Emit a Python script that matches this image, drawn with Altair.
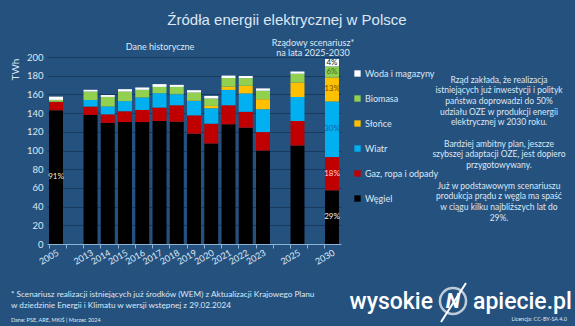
import altair as alt
import pandas as pd

# ---------------- data ----------------
years = ["2005", "2013", "2014", "2015", "2016", "2017", "2018", "2019",
         "2020", "2021", "2022", "2023", "2025", "2030"]
slots = ["2005", "_a", "2013", "2014", "2015", "2016", "2017", "2018", "2019",
         "2020", "2021", "2022", "2023", "_b", "2025", "_c", "2030"]
series = ["Węgiel", "Gaz, ropa i odpady", "Wiatr", "Słońce", "Biomasa", "Woda i magazyny"]

coal    = [143.0, 138.0, 129.5, 130.4, 130.4, 131.5, 130.8, 118.0, 107.5, 128.0, 124.4, 100.0, 105.4, 57.4]
gas     = [9.0,   9.0,   9.2,   11.6,  13.0,  14.4,  17.6,  19.6,  21.2,  20.4,  17.0,  19.7,  26.1,  35.6]
wind    = [0.1,   7.0,   8.3,   10.8,  13.2,  15.4,  11.8,  15.4,  16.5,  16.4,  19.6,  24.4,  25.8,  59.4]
solar   = [0.0,   0.0,   0.0,   0.1,   0.1,   0.2,   0.3,   0.7,   2.5,   3.5,   8.2,   10.8,  15.4,  25.7]
biomass = [2.0,   9.0,   10.3,  10.1,  8.2,   6.5,   7.5,   8.3,   7.9,   9.2,   8.2,   9.0,   9.3,   11.9]
water   = [3.5,   1.9,   2.0,   2.6,   2.5,   3.0,   2.2,   2.5,   2.8,   2.6,   2.3,   2.5,   2.6,   7.9]
values = [coal, gas, wind, solar, biomass, water]

label_years  = ["2005", "2030", "2030", "2030", "2030", "2030", "2030"]
label_series = ["Węgiel", "Węgiel", "Gaz, ropa i odpady", "Wiatr", "Słońce", "Biomasa", "Woda i magazyny"]
label_texts  = ["91%", "29%", "18%", "30%", "13%", "6%", "4%"]

# ---------------- styles ----------------
series_colors = ["#000000", "#c00000", "#00b0f0", "#ffc000", "#92d050", "#ffffff"]
label_colors = ["#f2e6c4", "#f2f2f2", "#ffd0d0", "#1464a5", "#7a5200", "#3d6b1c", "#222222"]
BG = "#25517f"
GRID = "#163a60"
LIGHT = "#dce8f4"
FONT = "Lato"

rows = []
for i, s in enumerate(series):
    for y, v in zip(years, values[i]):
        rows.append({"year": y, "series": s, "value": v, "order": i})
df = pd.DataFrame(rows)

lab_rows = []
for yr, s, t, c in zip(label_years, label_series, label_texts, label_colors):
    yi = years.index(yr)
    si = series.index(s)
    base = sum(values[k][yi] for k in range(si))
    lab_rows.append({"year": yr, "value": base + values[si][yi] / 2, "text": t, "color": c})
lab_df = pd.DataFrame(lab_rows)

# ---------------- layout ----------------
W, H = 294, 187
L, T = 47, 57

xscale = alt.Scale(domain=slots, paddingInner=0.19, paddingOuter=0.118)
yscale = alt.Scale(domain=[0, 200], nice=False)
yaxis = alt.Axis(values=list(range(0, 201, 20)), title="TWh", titleColor=LIGHT,
                 titleFont=FONT, titleFontSize=10, titleFontWeight="normal",
                 titleX=-27, titleY=12, titleAlign="center",
                 grid=True, gridColor=GRID, gridWidth=1, domain=False, ticks=False,
                 labelColor=LIGHT, labelFont=FONT, labelFontSize=9.5, labelPadding=4)

bars = alt.Chart(df).mark_bar().encode(
    x=alt.X("year:N", scale=xscale, sort=slots,
            axis=alt.Axis(title=None, labelAngle=-30, labelAlign="right", labelBaseline="top",
                          labelExpr="indexof(datum.label, '_') == 0 ? '' : datum.label",
                          ticks=False, domainColor="#8db3d9", domainWidth=1,
                          labelColor=LIGHT, labelFont=FONT, labelFontSize=9, labelPadding=4,
                          grid=False, orient="bottom")),
    y=alt.Y("value:Q", stack="zero", scale=yscale, axis=yaxis),
    color=alt.Color("series:N",
                    scale=alt.Scale(domain=series[::-1], range=series_colors[::-1]),
                    legend=alt.Legend(orient="none", legendX=306, legendY=12, title=None,
                                      symbolType="square", symbolSize=40, symbolStrokeWidth=0,
                                      labelColor=LIGHT, labelFont=FONT, labelFontSize=9,
                                      rowPadding=15, padding=0, labelOffset=3)),
    order=alt.Order("order:Q", sort="ascending"),
)

ticks_layer = alt.Chart(df).mark_tick(opacity=0).encode(
    x=alt.X("year:N", scale=xscale, sort=slots,
            axis=alt.Axis(bandPosition=0, labels=False, domain=False, ticks=True, tickSize=4,
                          tickColor="#8db3d9", tickWidth=1, title=None, grid=False,
                          orient="bottom")),
)

pct = alt.Chart(lab_df).mark_text(font=FONT, fontSize=8).encode(
    x=alt.X("year:N", scale=xscale, sort=slots, axis=None),
    y=alt.Y("value:Q", scale=yscale, axis=yaxis),
    text="text:N",
    color=alt.Color("color:N", scale=None),
)

dummy = pd.DataFrame({"a": [0]})


def txt(s, x, y, size, align="center", baseline="middle", font=FONT, color=LIGHT,
        weight="normal", style="normal", line_height=None):
    kw = dict(font=font, fontSize=size, align=align, baseline=baseline, color=color,
              fontWeight=weight, fontStyle=style, lineBreak="\n")
    if line_height is not None:
        kw["lineHeight"] = line_height
    return alt.Chart(dummy).mark_text(**kw).encode(
        x=alt.value(x - L), y=alt.value(y - T), text=alt.value(s))


texts = [
    txt("Źródła energii elektrycznej w Polsce", 287, 20, 15, font="Liberation Sans"),
    txt("Dane historyczne", 160, 47, 9),
    txt("Rządowy scenariusz*\nna lata 2025-2030", 313, 38.5, 9, baseline="top", line_height=10.3),
    txt("Rząd zakłada, że realizacja\nistniejących już inwestycji i polityk\npaństwa doprowadzi do 50%\n"
        "udziału OZE w produkcji energii\nelektrycznej w 2030 roku.",
        499, 75.5, 8.5, baseline="top", line_height=10.7),
    txt("Bardziej ambitny plan, jeszcze\nszybszej adaptacji OZE, jest dopiero\nprzygotowywany.",
        499, 139.5, 8.5, baseline="top", line_height=10.7),
    txt("Już w podstawowym scenariuszu\nprodukcja prądu z węgla ma spaść\nw ciągu kilku najbliższych lat do\n29%.",
        499, 181.5, 8.5, baseline="top", line_height=10.7),
    txt("* Scenariusz realizacji istniejących już środków (WEM) z Aktualizacji Krajowego Planu\n"
        "w dziedzinie Energii i Klimatu w wersji wstępnej z 29.02.2024",
        11, 290.5, 8.2, align="left", baseline="top", line_height=11.5),
    txt("Dane: PSE, ARE, MKiŚ  |  Marzec 2024", 11, 320, 5.5, align="left"),
    txt("Licencja: CC-BY-SA 4.0", 567, 319, 5.5, align="right"),
    txt("wysokie", 433, 302, 23, align="right", font="Roboto", weight=500, color="#ffffff"),
    txt("apiecie.pl", 473, 302, 23, align="left", font="Roboto", weight=500, color="#ffffff"),
    txt("N", 453, 302, 21, font="Roboto", weight="bold", style="italic", color="#ffffff"),
]

circle = alt.Chart(dummy).mark_point(shape="circle", filled=False, stroke="#ffffff",
                                     strokeWidth=2.5, size=680).encode(
    x=alt.value(453 - L), y=alt.value(301 - T))
bolt = alt.Chart(dummy).mark_rule(stroke="#ffffff", strokeWidth=2).encode(
    x=alt.value(441 - L), x2=alt.value(466 - L), y=alt.value(322 - T), y2=alt.value(283 - T))

chart = alt.layer(bars, ticks_layer, pct, circle, bolt, *texts).resolve_axis(
    x="independent"
).properties(
    width=W, height=H,
    autosize=alt.AutoSizeParams(type="none"),
    padding={"left": L, "top": T, "right": 575 - L - W, "bottom": 326 - T - H},
    background=BG,
).configure_view(stroke=None)

chart.save("out.html", embed_options={"renderer": "svg", "actions": False})
